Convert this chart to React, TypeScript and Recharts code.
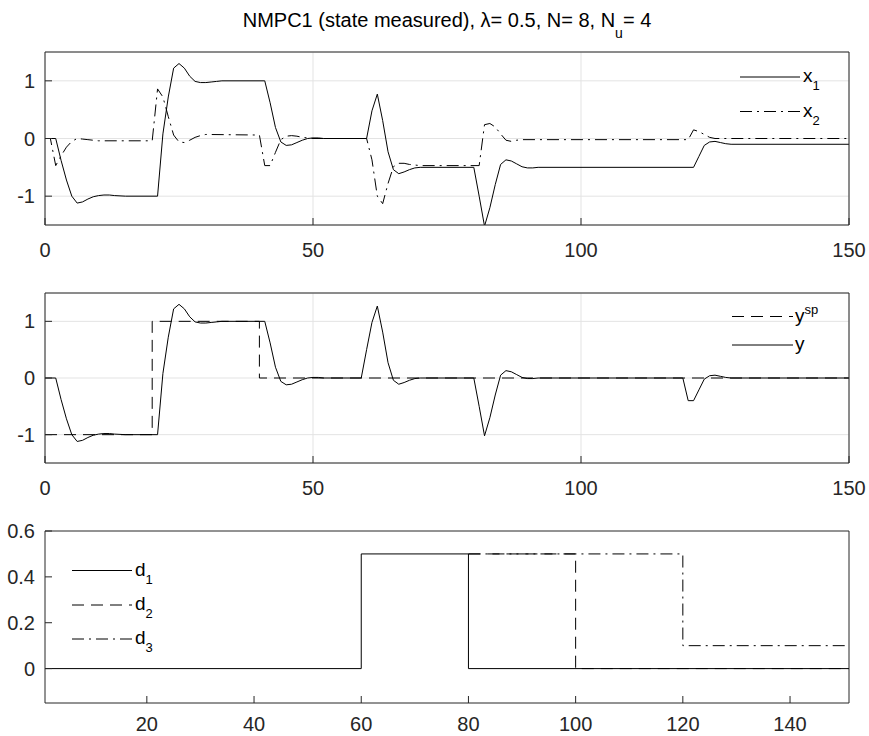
import React from 'react';
import { LineChart, Line, XAxis, YAxis, CartesianGrid, Legend } from 'recharts';

// ---------- data (time, value) ----------
const x1Values: number[][] = [
  [0, 0], [1, 0], [2, 0], [3, -0.38], [4, -0.72], [5, -1.0], [6, -1.12], [7, -1.1], [8, -1.05], [9, -1.01],
  [10, -0.99], [11, -0.98], [12, -0.98], [13, -0.99], [15, -1.0], [21, -1.0], [22, 0.08], [23, 0.72], [24, 1.22],
  [25, 1.3], [26, 1.22], [27, 1.08], [28, 0.99], [29, 0.97], [30, 0.97], [31, 0.98], [32, 0.99], [33, 1.0],
  [41, 1.0], [42, 0.62], [43, 0.19], [44, -0.06], [45, -0.12], [46, -0.11], [47, -0.07], [48, -0.03], [49, 0],
  [50, 0.01], [51, 0.01], [52, 0], [60, 0], [61, 0.48], [62, 0.77], [63, 0.31], [64, -0.23], [65, -0.54],
  [66, -0.61], [67, -0.58], [68, -0.54], [69, -0.51], [70, -0.5], [80, -0.5], [81, -1.0], [82, -1.52],
  [83, -1.2], [84, -0.8], [85, -0.45], [86, -0.37], [87, -0.39], [88, -0.44], [89, -0.49], [90, -0.51],
  [91, -0.51], [92, -0.5], [121, -0.5], [122, -0.31], [123, -0.12], [124, -0.06], [125, -0.05], [126, -0.07],
  [127, -0.09], [128, -0.1], [150, -0.1],
];

const x2Values: number[][] = [
  [0, 0], [1, 0], [2, -0.47], [3, -0.3], [4, -0.15], [5, -0.05], [6, 0], [7, -0.01], [8, -0.02], [9, -0.03],
  [10, -0.04], [20, -0.04], [21, 0.86], [22, 0.72], [23, 0.38], [24, 0.06], [25, -0.06], [26, -0.07],
  [27, -0.03], [28, 0.02], [29, 0.05], [30, 0.07], [40, 0.06], [41, -0.47], [42, -0.47], [43, -0.24],
  [44, -0.02], [45, 0.04], [46, 0.05], [47, 0.04], [48, 0.02], [49, 0.01], [50, 0], [60, 0], [61, -0.37],
  [62, -1.0], [63, -1.13], [64, -0.78], [65, -0.49], [66, -0.43], [67, -0.43], [68, -0.45], [69, -0.46],
  [70, -0.47], [81, -0.47], [82, 0.24], [83, 0.26], [84, 0.2], [85, 0.08], [86, -0.03], [87, -0.05],
  [88, -0.03], [89, -0.02], [120, -0.02], [121, 0.15], [122, 0.12], [123, 0.07], [124, 0.02], [125, 0],
  [150, 0],
];

const ySpValues: number[][] = [[0, -1], [20, 1], [40, 0], [150, 0]];

const yValues: number[][] = [
  [0, 0], [2, 0], [3, -0.38], [4, -0.72], [5, -1.0], [6, -1.12], [7, -1.1], [8, -1.05], [9, -1.01],
  [10, -0.99], [11, -0.98], [12, -0.98], [13, -0.99], [15, -1.0], [21, -1.0], [22, 0.08], [23, 0.72],
  [24, 1.22], [25, 1.3], [26, 1.22], [27, 1.08], [28, 0.99], [29, 0.97], [30, 0.97], [31, 0.98], [32, 0.99],
  [33, 1.0], [41, 1.0], [42, 0.62], [43, 0.19], [44, -0.06], [45, -0.12], [46, -0.11], [47, -0.07],
  [48, -0.03], [49, 0], [50, 0.01], [51, 0.01], [52, 0], [59, 0], [60, 0.5], [61, 0.98], [62, 1.27],
  [63, 0.81], [64, 0.27], [65, -0.04], [66, -0.11], [67, -0.08], [68, -0.04], [69, -0.01], [70, 0], [80, 0],
  [81, -0.5], [82, -1.02], [83, -0.7], [84, -0.3], [85, 0.05], [86, 0.13], [87, 0.11], [88, 0.06],
  [89, 0.01], [90, -0.01], [91, -0.01], [92, 0], [119, 0], [120, -0.4], [121, -0.4], [122, -0.21],
  [123, -0.02], [124, 0.04], [125, 0.05], [126, 0.03], [127, 0.01], [128, 0], [150, 0],
];

const d1Values: number[][] = [[1, 0], [60, 0.5], [80, 0], [151, 0]];
const d2Values: number[][] = [[80, 0.5], [100, 0], [151, 0]];
const d3Values: number[][] = [[80, 0.5], [120, 0.1], [151, 0.1]];

const xTicksTop = [0, 50, 100, 150];
const xTicksBottom = [20, 40, 60, 80, 100, 120, 140];
const yTicksState = [-1, 0, 1];
const yTicksDist = [0, 0.2, 0.4, 0.6];

const titleMain = 'NMPC1 (state measured), \u03bb= 0.5, N= 8, N';
const titleSub = 'u';
const titleEnd = '= 4';

// ---------- styling ----------
const FONT = '"Liberation Sans", Arial, Helvetica, sans-serif';
const AX = '#262626';
const GRID = '#e3e3e3';
const TICK_FS = 20;
const LEG_FS = 19;

const DASH = '12 7';
const DASHDOT = '12 5 2 5';

const pts = (a: number[][]) => a.map(([t, v]) => ({ t, v }));

type Series = { name: string; data: number[][]; dash?: string; type: 'linear' | 'stepAfter' };
type LegItem = { main: string; sub?: string; sup?: string; dash?: string; y: number };

function LegendSvg({ items, x0, x1, tx, offsetTop }: { items: LegItem[]; x0: number; x1: number; tx: number; offsetTop: number }) {
  return (
    <svg width={869} height={300} style={{ position: 'absolute', left: 0, top: 0, overflow: 'visible' }}>
      {items.map((it, i) => {
        const y = it.y - offsetTop;
        return (
          <g key={i}>
            <line x1={x0} x2={x1} y1={y} y2={y} stroke="#000" strokeWidth={1} strokeDasharray={it.dash} />
            <text x={tx} y={y + 5} fontFamily={FONT} fontSize={LEG_FS} fill="#000">
              {it.main}
              {it.sub && <tspan dy={8} fontSize={13}>{it.sub}</tspan>}
              {it.sup && <tspan dy={-8} fontSize={13}>{it.sup}</tspan>}
            </text>
          </g>
        );
      })}
    </svg>
  );
}

function Panel(props: {
  plotTop: number; plotH: number; xDomain: number[]; xTicks: number[]; yDomain: number[]; yTicks: number[];
  grid: boolean; xTickMargin: number; series: Series[]; legend: { items: LegItem[]; x0: number; x1: number; tx: number };
}) {
  const { plotTop, plotH, xDomain, xTicks, yDomain, yTicks, grid, xTickMargin, series, legend } = props;
  const mTop = 10;
  const chartTop = plotTop - mTop;
  const h = mTop + plotH + 45;
  const tickStyle = { fill: AX, fontSize: TICK_FS, fontFamily: FONT };
  return (
    <div style={{ position: 'absolute', left: 0, top: chartTop }}>
      <LineChart width={869} height={h} margin={{ top: mTop - 1, right: 19, bottom: 0, left: 0 }}>
        {grid && <CartesianGrid stroke={GRID} strokeWidth={1} />}
        <XAxis xAxisId={0} dataKey="t" type="number" domain={xDomain} ticks={xTicks} allowDataOverflow
          height={45} tickSize={-7} tickMargin={xTickMargin} stroke={AX} tick={tickStyle} interval={0} />
        <XAxis xAxisId="top" orientation="top" dataKey="t" type="number" domain={xDomain} ticks={xTicks}
          allowDataOverflow height={1} tickSize={-7} tick={false} stroke={AX} interval={0} />
        <YAxis yAxisId={0} type="number" domain={yDomain} ticks={yTicks} allowDataOverflow width={45}
          tickSize={-7} tickMargin={17} stroke={AX} tick={tickStyle} interval={0} />
        <YAxis yAxisId="right" orientation="right" type="number" domain={yDomain} ticks={yTicks}
          allowDataOverflow width={1} tickSize={-7} tick={false} stroke={AX} interval={0} />
        {series.map((s) => (
          <Line key={s.name} name={s.name} data={pts(s.data)} dataKey="v" type={s.type} stroke="#000"
            strokeWidth={1} strokeDasharray={s.dash} dot={false} activeDot={false} isAnimationActive={false} />
        ))}
        <Legend
          content={() => <LegendSvg {...legend} offsetTop={chartTop} />}
          wrapperStyle={{ position: 'absolute', left: 0, top: 0, width: 0, height: 0, overflow: 'visible' }}
        />
      </LineChart>
    </div>
  );
}

export default function App() {
  return (
    <div style={{ position: 'absolute', left: 0, top: 0, width: 869, height: 736, background: '#fff', fontFamily: FONT }}>
      <svg width={869} height={50} style={{ position: 'absolute', left: 0, top: 0 }}>
        <text x={447} y={27} textAnchor="middle" fontFamily={FONT} fontSize={20} fill="#000">
          {titleMain}
          <tspan dy={11} fontSize={14}>{titleSub}</tspan>
          <tspan dy={-11}>{titleEnd}</tspan>
        </text>
      </svg>
      <Panel
        plotTop={52} plotH={173} xDomain={[0, 150]} xTicks={xTicksTop} yDomain={[-1.5, 1.5]} yTicks={yTicksState}
        grid xTickMargin={25}
        series={[
          { name: 'x1', data: x1Values, type: 'linear' },
          { name: 'x2', data: x2Values, type: 'linear', dash: DASHDOT },
        ]}
        legend={{ x0: 740, x1: 800, tx: 803, items: [
          { main: 'x', sub: '1', y: 77 },
          { main: 'x', sub: '2', dash: DASHDOT, y: 111.5 },
        ] }}
      />
      <Panel
        plotTop={293} plotH={170} xDomain={[0, 150]} xTicks={xTicksTop} yDomain={[-1.5, 1.5]} yTicks={yTicksState}
        grid xTickMargin={25}
        series={[
          { name: 'ysp', data: ySpValues, type: 'stepAfter', dash: DASH },
          { name: 'y', data: yValues, type: 'linear' },
        ]}
        legend={{ x0: 732, x1: 793, tx: 795, items: [
          { main: 'y', sup: 'sp', dash: DASH, y: 316.5 },
          { main: 'y', y: 345 },
        ] }}
      />
      <Panel
        plotTop={531} plotH={172} xDomain={[1, 151]} xTicks={xTicksBottom} yDomain={[-0.15, 0.6]} yTicks={yTicksDist}
        grid={false} xTickMargin={21}
        series={[
          { name: 'd1', data: d1Values, type: 'stepAfter' },
          { name: 'd2', data: d2Values, type: 'stepAfter', dash: DASH },
          { name: 'd3', data: d3Values, type: 'stepAfter', dash: DASHDOT },
        ]}
        legend={{ x0: 72, x1: 132, tx: 135, items: [
          { main: 'd', sub: '1', y: 570.5 },
          { main: 'd', sub: '2', dash: DASH, y: 605 },
          { main: 'd', sub: '3', dash: DASHDOT, y: 639 },
        ] }}
      />
    </div>
  );
}
